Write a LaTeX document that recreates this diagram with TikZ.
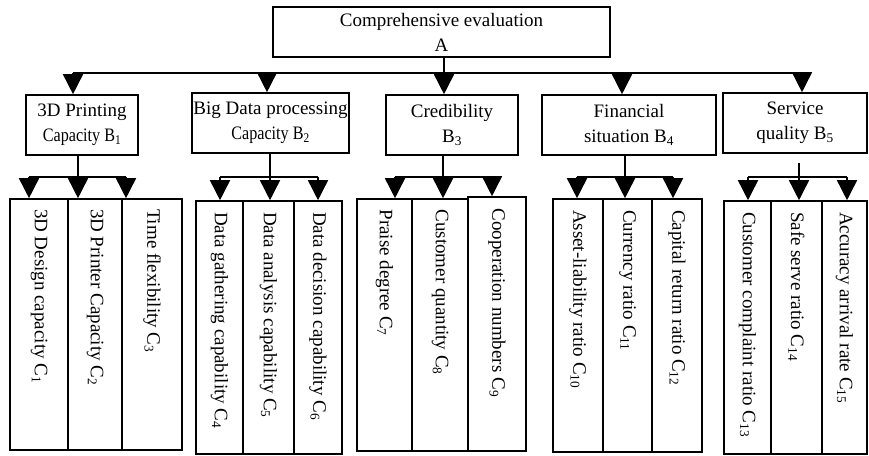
\documentclass[tikz,border=0pt]{standalone}
\usepackage{fontspec}
\setmainfont{Liberation Serif}
\usetikzlibrary{arrows.meta,positioning,calc}

\tikzset{
  box/.style={draw,line width=1.6pt,align=center,inner sep=0pt},
  cbox/.style 2 args={draw,line width=1.6pt,rotate=-90,inner sep=0pt,
    minimum width=#1,minimum height=#2,text width=231pt,align=flush left},
  wire/.style={line width=1.6pt},
  arr/.style={line width=1.6pt,-{Triangle[width=20pt,length=20pt]}},
}
\newcommand{\narrow}[1]{\scalebox{0.85}[1]{#1}}

\begin{document}
\begin{tikzpicture}[x=1pt,y=-1pt,font=\fontsize{19}{25}\selectfont]
\useasboundingbox (0,0) rectangle (869,455);

% goal
\node[box,minimum width=337pt,minimum height=50pt] (A) at (441.5,32) {Comprehensive evaluation\\A};

% criteria
\node[box,minimum width=112pt,minimum height=60pt] (b1) at (82,125) {3D Printing\\\narrow{Capacity B\textsubscript{1}}};
\node[box,minimum width=157pt,minimum height=60pt] (b2) at (270.5,123) {Big Data processing\\\narrow{Capacity B\textsubscript{2}}};
\node[box,minimum width=132pt,minimum height=60pt] (b3) at (452,125) {Credibility\\B\textsubscript{3}};
\node[box,minimum width=174pt,minimum height=60pt] (b4) at (629,125) {Financial\\situation B\textsubscript{4}};
\node[box,minimum width=144pt,minimum height=60pt] (b5) at (795,123) {Service\\quality B\textsubscript{5}};

% indicators
\node[cbox={251pt}{58pt}] (c1) at (39,324.5) {3D Design capacity C\textsubscript{1}};
\node[cbox={251pt}{54pt}] (c2) at (95,324.5) {3D Printer Capacity C\textsubscript{2}};
\node[cbox={251pt}{60pt}] (c3) at (152,324.5) {Time flexibility C\textsubscript{3}};
\node[cbox={253pt}{47pt}] (c4) at (219.5,327.5) {Data gathering capability C\textsubscript{4}};
\node[cbox={253pt}{51pt}] (c5) at (268.5,327.5) {Data analysis capability C\textsubscript{5}};
\node[cbox={253pt}{48pt}] (c6) at (318,327.5) {Data decision capability C\textsubscript{6}};
\node[cbox={252pt}{55pt}] (c7) at (384.5,325) {Praise degree C\textsubscript{7}};
\node[cbox={252pt}{56pt}] (c8) at (440,325) {Customer quantity C\textsubscript{8}};
\node[cbox={254pt}{58pt}] (c9) at (497,324) {Cooperation numbers C\textsubscript{9}};
\node[cbox={253pt}{50pt}] (c10) at (578,325.5) {Asset-liability ratio C\textsubscript{10}};
\node[cbox={253pt}{49pt}] (c11) at (627.5,325.5) {Currency ratio C\textsubscript{11}};
\node[cbox={253pt}{50pt}] (c12) at (677,325.5) {Capital return ratio C\textsubscript{12}};
\node[cbox={253pt}{47pt}] (c13) at (747.5,327.5) {Customer complaint ratio C\textsubscript{13}};
\node[cbox={253pt}{51pt}] (c14) at (796.5,327.5) {Safe serve ratio C\textsubscript{14}};
\node[cbox={253pt}{45pt}] (c15) at (844.5,327.5) {Accuracy arrival rate C\textsubscript{15}};

% goal -> criteria
\coordinate (a1) at (73,73);
\coordinate (a2) at (267,73);
\coordinate (a3) at (444,73);
\coordinate (a4) at (622,73);
\coordinate (a5) at (802,73);
\draw[wire] (A.south -| a3) -- (a3);
\draw[wire] (a1) -- (a5);
\foreach \i in {1,...,5}
  \draw[arr] (a\i) -- (a\i |- b\i.north);

% criteria -> indicators
\coordinate (s5) at ([yshift=-9pt]b5.south);
\foreach \g/\xa/\xb/\xc in {1/29/78/126,2/220/270/318,3/395/443/492,4/577/625/673,5/748/799/847}{
  \coordinate (l\g) at (\xa,177);
  \coordinate (m\g) at (\xb,177);
  \coordinate (r\g) at (\xc,177);
  \draw[wire] (l\g) -- (r\g);
  \pgfmathtruncatemacro{\cl}{3*\g-2}
  \pgfmathtruncatemacro{\cm}{3*\g-1}
  \pgfmathtruncatemacro{\cr}{3*\g}
  \draw[arr] (l\g) -- (l\g |- c\cl.west);
  \draw[arr] (m\g) -- (m\g |- c\cm.west);
  \draw[arr] (r\g) -- (r\g |- c\cr.west);
}
\foreach \i in {1,...,4}
  \draw[wire] (b\i.south -| m\i) -- (m\i);
\draw[wire] (s5 -| m5) -- (m5);

\end{tikzpicture}
\end{document}
